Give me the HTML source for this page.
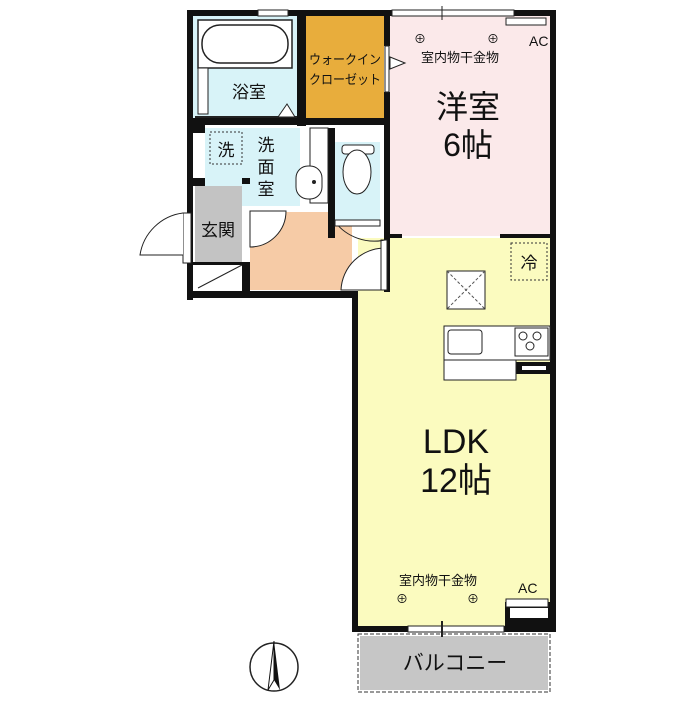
<!DOCTYPE html>
<html><head><meta charset="utf-8"><style>
html,body{margin:0;padding:0;background:#fff;}
svg text{font-family:"Liberation Sans","Noto Sans CJK JP",sans-serif;fill:#111;}
</style></head><body>
<svg width="700" height="700" viewBox="0 0 700 700" xmlns="http://www.w3.org/2000/svg">
<rect width="700" height="700" fill="#fff"/>
<rect x="193" y="16" width="104" height="102" fill="#d8f3f8"/>
<rect x="306" y="16" width="78" height="102" fill="#e8ad3c"/>
<rect x="390" y="16" width="160" height="220" fill="#fbe9ea"/>
<rect x="205" y="128" width="95" height="78" fill="#d8f3f8"/>
<rect x="195" y="186" width="47" height="76" fill="#c3c3c3"/>
<rect x="250" y="212" width="102" height="78" fill="#f6cba6"/>
<rect x="335" y="142" width="45" height="80" fill="#d8f3f8"/>
<rect x="358" y="238" width="192" height="388" fill="#fbfbbf"/>
<rect x="360" y="636" width="188" height="54" fill="#c6c6c6"/>
<rect x="198" y="20" width="94" height="48" fill="#fff" stroke="#222" stroke-width="1.5"/>
<rect x="202" y="25" width="86" height="38" rx="18" fill="#fff" stroke="#222" stroke-width="1.5"/>
<rect x="198" y="68" width="10" height="46" fill="#fff" stroke="#222"/>
<line x1="195" y1="117" x2="297" y2="117" stroke="#222" stroke-width="2"/>
<polygon points="278,117 287,104 295,117" fill="#fff" stroke="#222"/>
<g fill="#111">
<rect x="187" y="10" width="369" height="6"/>
<rect x="187" y="10" width="6" height="290"/>
<rect x="187" y="291" width="171" height="7"/>
<rect x="550" y="10" width="6" height="622"/>
<rect x="352" y="291" width="6" height="341"/>
<rect x="352" y="626" width="204" height="6"/>
<rect x="297" y="16" width="9" height="110"/>
<rect x="384" y="16" width="6" height="30"/>
<rect x="384" y="92" width="6" height="200"/>
<rect x="193" y="118" width="196" height="7"/>
<rect x="193" y="178" width="12" height="8"/>
<rect x="193" y="125" width="12" height="8"/>
<rect x="242" y="178" width="8" height="6"/>
<rect x="242" y="262" width="8" height="29"/>
<rect x="188" y="262" width="62" height="3"/>
<rect x="328" y="128" width="7" height="110"/>
<rect x="390" y="234" width="12" height="4"/>
<rect x="500" y="234" width="50" height="4"/>
<rect x="516" y="362" width="34" height="12"/>
<rect x="505" y="602" width="45" height="24"/>
</g>
<rect x="522" y="366" width="24" height="4" fill="#fff"/>
<rect x="510" y="608" width="38" height="10" fill="#fff"/>
<rect x="258" y="10" width="30" height="6" fill="#fff" stroke="#222" stroke-width="1"/>
<rect x="392" y="10" width="122" height="6" fill="#fff" stroke="#222" stroke-width="1"/>
<line x1="442" y1="6" x2="442" y2="20" stroke="#222"/>
<rect x="408" y="626" width="96" height="6" fill="#fff" stroke="#222" stroke-width="1"/>
<line x1="442" y1="621" x2="442" y2="637" stroke="#222" stroke-width="2"/>
<rect x="385" y="46" width="4" height="46" fill="#fff" stroke="#222"/>
<polygon points="390,57 405,63 390,69" fill="#fff" stroke="#222"/>
<rect x="183" y="213" width="8" height="50" fill="#fff" stroke="#222"/>
<path d="M183,213 A50,50 0 0 0 140,255 L183,255" fill="#fff" stroke="#222"/>
<line x1="198" y1="288" x2="242" y2="265" stroke="#222"/>
<path d="M250,211 L286,211 A36,36 0 0 1 250,247 Z" fill="#fff" stroke="#222"/>
<path d="M385,248 A44,44 0 0 0 341,290 L385,290 Z" fill="#fff" stroke="#222"/>
<rect x="381" y="240" width="6" height="50" fill="#fff" stroke="#222"/>
<path d="M335,222 A50,50 0 0 0 385,240" fill="none" stroke="#222"/>
<rect x="335" y="220" width="45" height="6" fill="#fff" stroke="#222"/>
<rect x="342" y="145" width="32" height="9" rx="3" fill="#fff" stroke="#222"/>
<ellipse cx="357" cy="172" rx="14" ry="22" fill="#fff" stroke="#222"/>
<rect x="310" y="128" width="18" height="75" fill="#fff" stroke="#222"/>
<rect x="296" y="166" width="26" height="33" rx="12" fill="#fff" stroke="#222"/>
<circle cx="314" cy="182" r="2" fill="#222"/>
<rect x="210" y="132" width="32" height="32" fill="none" stroke="#333" stroke-dasharray="2,2"/>
<text x="226" y="156" font-size="17" text-anchor="middle">洗</text>
<rect x="511" y="243" width="36" height="37" fill="none" stroke="#333" stroke-dasharray="2,2"/>
<text x="529" y="269" font-size="17" text-anchor="middle">冷</text>
<rect x="447" y="271" width="38" height="38" fill="#fff" stroke="#222"/>
<line x1="447" y1="271" x2="485" y2="309" stroke="#555" stroke-dasharray="3,2"/>
<line x1="485" y1="271" x2="447" y2="309" stroke="#555" stroke-dasharray="3,2"/>
<rect x="444" y="326" width="106" height="34" fill="#fff" stroke="#222"/>
<rect x="448" y="330" width="34" height="24" rx="3" fill="#fff" stroke="#222"/>
<rect x="515" y="328" width="33" height="28" fill="#fff" stroke="#222"/>
<circle cx="523" cy="336" r="4" fill="none" stroke="#222"/><circle cx="537" cy="336" r="4" fill="none" stroke="#222"/><circle cx="530" cy="346" r="4" fill="none" stroke="#222"/>
<rect x="444" y="360" width="72" height="20" fill="#fff" stroke="#222"/>
<rect x="506" y="18" width="40" height="7" fill="#fff" stroke="#222"/>
<rect x="506" y="599" width="42" height="8" fill="#fff" stroke="#222"/>
<text x="529" y="46" font-size="14">AC</text>
<text x="420" y="43" font-size="12" text-anchor="middle">⊕</text>
<text x="493" y="43" font-size="12" text-anchor="middle">⊕</text>
<text x="460" y="62" font-size="13" text-anchor="middle">室内物干金物</text>
<text x="345" y="64" font-size="13" text-anchor="middle" textLength="72" lengthAdjust="spacingAndGlyphs">ウォークイン</text>
<text x="345" y="84" font-size="13" text-anchor="middle" textLength="72" lengthAdjust="spacingAndGlyphs">クローゼット</text>
<text x="249" y="98" font-size="17" text-anchor="middle">浴室</text>
<text x="266" y="151" font-size="17" text-anchor="middle">洗</text>
<text x="266" y="173" font-size="17" text-anchor="middle">面</text>
<text x="266" y="195" font-size="17" text-anchor="middle">室</text>
<text x="218" y="236" font-size="17" text-anchor="middle">玄関</text>
<text x="468" y="118" font-size="32" text-anchor="middle">洋室</text>
<text x="468" y="156" font-size="32" text-anchor="middle">6帖</text>
<text x="456" y="453" font-size="34" text-anchor="middle">LDK</text>
<text x="456" y="492" font-size="34" text-anchor="middle">12帖</text>
<text x="438" y="585" font-size="13" text-anchor="middle">室内物干金物</text>
<text x="402" y="603" font-size="12" text-anchor="middle">⊕</text>
<text x="473" y="603" font-size="12" text-anchor="middle">⊕</text>
<text x="518" y="593" font-size="14">AC</text>
<text x="455" y="670" font-size="21" text-anchor="middle">バルコニー</text>
<rect x="358" y="634" width="192" height="58" fill="none" stroke="#333" stroke-dasharray="4,2"/>
<circle cx="274" cy="667" r="24" fill="none" stroke="#222" stroke-width="1.5"/>
<polygon points="274,641 280,690 274,680" fill="#111"/>
<polygon points="274,641 268,690 274,680" fill="#fff" stroke="#111"/>
</svg>
</body></html>
